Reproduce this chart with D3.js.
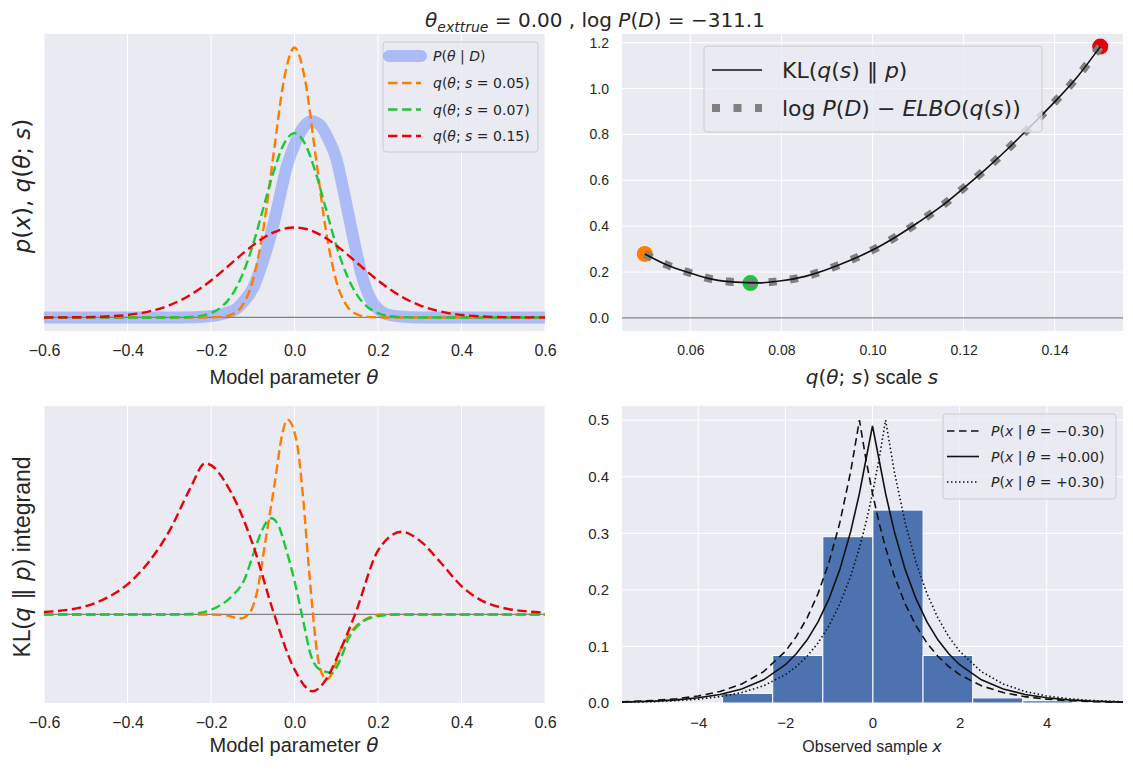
<!DOCTYPE html>
<html>
<head>
<meta charset="utf-8">
<script src="https://cdn.jsdelivr.net/npm/d3@7"></script>
<style>
  body { margin: 0; background: #fff; }
  text { white-space: pre; }
</style>
</head>
<body>
<div id="chart"></div>
<script>
// ---- values ----
const thetaTicks = [-0.6, -0.4, -0.2, 0, 0.2, 0.4, 0.6];
const sTicks = [0.06, 0.08, 0.10, 0.12, 0.14];
const klTicks = [0, 0.2, 0.4, 0.6, 0.8, 1.0, 1.2];
const obsTicks = [-4, -2, 0, 2, 4];
const densTicks = [0, 0.1, 0.2, 0.3, 0.4, 0.5];

const qScales = ["0.05", "0.07", "0.15"];
const lapThetas = ["\u22120.30", "+0.00", "+0.30"];

// posterior P(theta | D)
const postTheta = [-0.6, -0.3, -0.24, -0.2, -0.16, -0.14, -0.12, -0.1, -0.08, -0.06, -0.04, -0.02, 0,
  0.02, 0.04, 0.06, 0.08, 0.1, 0.12, 0.14, 0.16, 0.18, 0.2, 0.22, 0.26, 0.3, 0.6];
const postValues = [0, 0, 0.01, 0.04, 0.14, 0.25, 0.5, 0.85, 1.5, 2.3, 3.3, 4.4, 5.1,
  5.6, 5.8, 5.7, 5.3, 4.7, 3.6, 2.4, 1.3, 0.6, 0.25, 0.1, 0.02, 0, 0];

// q(theta; s) for the three scales
const qTheta = [-0.6, -0.55, -0.5, -0.45, -0.4, -0.35, -0.3, -0.275, -0.25, -0.225, -0.2, -0.175, -0.15,
  -0.125, -0.1, -0.075, -0.05, -0.025, 0, 0.025, 0.05, 0.075, 0.1, 0.125, 0.15, 0.175, 0.2, 0.225,
  0.25, 0.275, 0.3, 0.35, 0.4, 0.45, 0.5, 0.55, 0.6];
const qOrange = [0, 0, 0, 0, 0, 0, 0, 0, 0, 0, 0.003, 0.017, 0.089, 0.35, 1.08, 2.59, 4.84, 7.04, 7.98,
  7.04, 4.84, 2.59, 1.08, 0.35, 0.089, 0.017, 0.003, 0, 0, 0, 0, 0, 0, 0, 0, 0, 0];
const qGreen = [0, 0, 0, 0, 0, 0, 0.001, 0.004, 0.015, 0.047, 0.128, 0.31, 0.66, 1.26, 2.13, 3.22, 4.31,
  5.14, 5.45, 5.14, 4.31, 3.22, 2.13, 1.26, 0.66, 0.31, 0.128, 0.047, 0.015, 0.004, 0.001, 0, 0, 0, 0, 0, 0];
const qRed = [0.001, 0.003, 0.010, 0.030, 0.076, 0.175, 0.360, 0.495, 0.663, 0.864, 1.093, 1.346, 1.613,
  1.880, 2.130, 2.347, 2.517, 2.623, 2.66, 2.623, 2.517, 2.347, 2.130, 1.880, 1.613, 1.346, 1.093, 0.864,
  0.663, 0.495, 0.360, 0.175, 0.076, 0.030, 0.010, 0.003, 0.001];

// KL divergence vs scale s
const sGrid = [0.05, 0.055, 0.06, 0.065, 0.07, 0.075, 0.08, 0.085, 0.09, 0.095, 0.1, 0.105, 0.11,
  0.115, 0.12, 0.125, 0.13, 0.135, 0.14, 0.145, 0.15];
const klValues = [0.279, 0.230, 0.196, 0.168, 0.156, 0.153, 0.162, 0.180, 0.211, 0.250, 0.296, 0.352,
  0.416, 0.485, 0.566, 0.651, 0.743, 0.841, 0.942, 1.052, 1.183];
const gapValues = [0.279, 0.230, 0.196, 0.168, 0.156, 0.153, 0.162, 0.180, 0.211, 0.250, 0.296, 0.352,
  0.416, 0.485, 0.566, 0.651, 0.743, 0.841, 0.942, 1.052, 1.183];
const markS = [0.05, 0.0732, 0.15];
const markKL = [0.279, 0.152, 1.183];

// KL integrand q log(q/p)
const intOrangeTheta = [-0.6, -0.2, -0.16, -0.13, -0.107, -0.09, -0.069, -0.047, -0.03, -0.017, 0.004,
  0.021, 0.034, 0.06, 0.077, 0.09, 0.107, 0.141, 0.176, 0.21, 0.6];
const intOrange = [0, 0, -0.02, -0.07, 0.03, 0.37, 1.27, 2.24, 3.03, 3.30, 2.97, 1.95, 0.82, -0.88,
  -1.10, -1.0, -0.65, -0.25, -0.06, 0, 0];
const intGreenTheta = [-0.6, -0.3, -0.25, -0.2, -0.15, -0.12, -0.1, -0.08, -0.056, -0.04, -0.02, 0,
  0.02, 0.04, 0.06, 0.09, 0.11, 0.13, 0.16, 0.2, 0.25, 0.6];
const intGreen = [0, 0, 0.01, 0.08, 0.31, 0.59, 0.99, 1.39, 1.63, 1.53, 1.10, 0.57, -0.08, -0.71,
  -0.93, -0.99, -0.76, -0.40, -0.14, -0.03, 0, 0];
const intRedTheta = [-0.6, -0.5, -0.45, -0.4, -0.35, -0.3, -0.25, -0.214, -0.15, -0.1, -0.05, 0, 0.043,
  0.08, 0.1, 0.145, 0.2, 0.257, 0.3, 0.35, 0.4, 0.45, 0.5, 0.6];
const intRed = [0.04, 0.14, 0.28, 0.51, 0.88, 1.41, 2.13, 2.56, 2.04, 1.19, 0.03, -0.93, -1.30, -1.05,
  -0.76, 0, 1.08, 1.40, 1.25, 0.88, 0.48, 0.23, 0.11, 0.03];

// observed samples histogram (density) and Laplace likelihoods
const binEdges = [-3.44, -2.29, -1.14, 0.01, 1.16, 2.30, 3.45, 4.60];
const binHeights = [0.017, 0.084, 0.294, 0.341, 0.084, 0.009, 0.004];
const lapX = [-5.75, -5, -4.5, -4, -3.5, -3, -2.5, -2, -1.75, -1.5, -1.25, -1, -0.75, -0.5, -0.3, -0.15, 0,
  0.15, 0.3, 0.5, 0.75, 1, 1.25, 1.5, 1.75, 2, 2.5, 3, 3.5, 4, 4.5, 5, 5.75];
const lapMinus = [0.0022, 0.0046, 0.0075, 0.0124, 0.0204, 0.0336, 0.0554, 0.0913, 0.1173, 0.1506, 0.1934,
  0.2483, 0.3188, 0.4094, 0.5, 0.4304, 0.3704, 0.3188, 0.2744, 0.2247, 0.1749, 0.1363, 0.1061, 0.0826,
  0.0644, 0.0501, 0.0304, 0.0184, 0.0112, 0.0068, 0.0041, 0.0025, 0.0012];
const lapZero = [0.0016, 0.0034, 0.0056, 0.0092, 0.0151, 0.0249, 0.0410, 0.0677, 0.0869, 0.1116, 0.1433,
  0.1839, 0.2362, 0.3033, 0.3704, 0.4304, 0.49, 0.4304, 0.3704, 0.3033, 0.2362, 0.1839, 0.1433, 0.1116,
  0.0869, 0.0677, 0.0410, 0.0249, 0.0151, 0.0092, 0.0056, 0.0034, 0.0016];
const lapPlus = [0.0012, 0.0025, 0.0041, 0.0068, 0.0112, 0.0184, 0.0304, 0.0501, 0.0644, 0.0826, 0.1061,
  0.1363, 0.1749, 0.2247, 0.2744, 0.3188, 0.3704, 0.4304, 0.5, 0.4094, 0.3188, 0.2483, 0.1934, 0.1506,
  0.1173, 0.0913, 0.0554, 0.0336, 0.0204, 0.0124, 0.0075, 0.0046, 0.0022];

// ---- styling ----
const MATH = "DejaVu Sans";
const SANS = "Liberation Sans, Arial, sans-serif";
const INK = "#262626";
const BG = "#eaeaf2";
const ORANGE = "#ff7c00", GREEN = "#1ac938", RED = "#e8000b";
const qColors = [ORANGE, GREEN, RED];

const svg = d3.select("#chart").append("svg")
    .attr("width", 1133)
    .attr("height", 771)
    .style("font-family", SANS);

let clipCount = 0;

function panel(box) {
  const g = svg.append("g").attr("transform", `translate(${box.x},${box.y})`);
  g.append("rect").attr("width", box.w).attr("height", box.h).attr("fill", BG);
  const id = "clip" + (++clipCount);
  g.append("clipPath").attr("id", id)
    .append("rect").attr("width", box.w).attr("height", box.h);
  const grid = g.append("g");
  const plot = g.append("g").attr("clip-path", `url(#${id})`);
  return {g, grid, plot};
}

function vgrid(p, x, ticks, h) {
  p.grid.selectAll(null).data(ticks).join("line")
    .attr("x1", d => x(d)).attr("x2", d => x(d))
    .attr("y1", 0).attr("y2", h)
    .attr("stroke", "#fff").attr("stroke-width", 1);
}

function hgrid(p, y, ticks, w) {
  p.grid.selectAll(null).data(ticks).join("line")
    .attr("y1", d => y(d)).attr("y2", d => y(d))
    .attr("x1", 0).attr("x2", w)
    .attr("stroke", "#fff").attr("stroke-width", 1);
}

function bottomAxis(p, x, ticks, fmt, h, size) {
  p.g.append("g")
    .attr("transform", `translate(0,${h})`)
    .call(d3.axisBottom(x).tickValues(ticks).tickSize(0).tickPadding(14).tickFormat(d3.format(fmt)))
    .call(a => a.select(".domain").remove())
    .attr("font-family", SANS).attr("font-size", size).attr("color", INK);
}

function leftAxis(p, y, ticks, fmt, size) {
  p.g.append("g")
    .call(d3.axisLeft(y).tickValues(ticks).tickSize(0).tickPadding(13).tickFormat(d3.format(fmt)))
    .call(a => a.select(".domain").remove())
    .attr("font-family", SANS).attr("font-size", size).attr("color", INK);
}

// text made of plain and math parts: n = plain, m = math upright, i = math italic, sub = italic subscript
function rich(sel, segs, size) {
  let shift = 0;
  segs.forEach(([t, k]) => {
    const ts = sel.append("tspan").text(t);
    if (k !== "n") ts.attr("font-family", MATH);
    if (k === "i" || k === "sub") ts.attr("font-style", "italic");
    if (k === "sub") {
      shift = size * 0.25;
      ts.attr("font-size", size * 0.7).attr("dy", shift);
    } else if (shift) {
      ts.attr("dy", -shift);
      shift = 0;
    }
  });
  return sel;
}

function label(x, y, segs, size, rotate) {
  const t = svg.append("text")
    .attr("text-anchor", "middle")
    .attr("font-size", size)
    .attr("fill", INK)
    .attr("transform", `translate(${x},${y})` + (rotate ? " rotate(-90)" : ""));
  return rich(t, segs, size);
}

function legendBox(x, y, w, h) {
  svg.append("rect")
    .attr("x", x).attr("y", y).attr("width", w).attr("height", h).attr("rx", 3)
    .attr("fill", BG).attr("fill-opacity", 0.8)
    .attr("stroke", "#cccccc").attr("stroke-width", 1);
}

function legendText(x, y, segs, size) {
  const t = svg.append("text")
    .attr("x", x).attr("y", y)
    .attr("dominant-baseline", "central")
    .attr("font-size", size)
    .attr("fill", INK);
  rich(t, segs, size);
}

function pathOf(xs, ys, x, y, curve) {
  return d3.line().x(d => x(d[0])).y(d => y(d[1])).curve(curve || d3.curveLinear)(d3.zip(xs, ys));
}

const W = 501, H = 297;
const DASH = "9.5,4.5", LW = 2.4;

// ---- top left: posterior and q densities ----
{
  const box = {x: 44, y: 34, w: W, h: H};
  const p = panel(box);
  const x = d3.scaleLinear([-0.6, 0.6], [0, W]);
  const y = d3.scaleLinear([-0.4, 8.38], [H, 0]);
  vgrid(p, x, thetaTicks, H);

  p.plot.append("path")
    .attr("d", pathOf(postTheta, postValues, x, y, d3.curveMonotoneX))
    .attr("fill", "none").attr("stroke", "#023eff").attr("stroke-opacity", 0.27)
    .attr("stroke-width", 12).attr("stroke-linecap", "round").attr("stroke-linejoin", "round");

  p.plot.append("line")
    .attr("x1", 0).attr("x2", W).attr("y1", y(0)).attr("y2", y(0))
    .attr("stroke", "#808080").attr("stroke-width", 1.2);

  [qOrange, qGreen, qRed].forEach((vals, i) => {
    p.plot.append("path")
      .attr("d", pathOf(qTheta, vals, x, y, d3.curveMonotoneX))
      .attr("fill", "none").attr("stroke", qColors[i]).attr("stroke-width", LW)
      .attr("stroke-dasharray", DASH);
  });

  bottomAxis(p, x, thetaTicks, ".1f", H, 16);
}

// ---- top right: KL vs s ----
{
  const box = {x: 622, y: 34, w: W, h: H};
  const p = panel(box);
  const x = d3.scaleLinear([0.045, 0.155], [0, W]);
  const y = d3.scaleLinear([-0.057, 1.238], [H, 0]);
  vgrid(p, x, sTicks, H);
  hgrid(p, y, klTicks, W);

  p.plot.append("line")
    .attr("x1", 0).attr("x2", W).attr("y1", y(0)).attr("y2", y(0))
    .attr("stroke", "#808080").attr("stroke-width", 1.2);

  p.plot.selectAll(null).data(d3.zip(markS, markKL)).join("circle")
    .attr("cx", d => x(d[0])).attr("cy", d => y(d[1])).attr("r", 8)
    .attr("fill", (d, i) => qColors[i]);

  p.plot.append("path")
    .attr("d", pathOf(sGrid, gapValues, x, y, d3.curveMonotoneX))
    .attr("fill", "none").attr("stroke", "#808080").attr("stroke-width", 8)
    .attr("stroke-dasharray", "8,13.5");

  p.plot.append("path")
    .attr("d", pathOf(sGrid, klValues, x, y, d3.curveMonotoneX))
    .attr("fill", "none").attr("stroke", "#111").attr("stroke-width", 1.6);

  bottomAxis(p, x, sTicks, ".2f", H, 14);
  leftAxis(p, y, klTicks, ".1f", 14);
}

// ---- bottom left: KL integrand ----
{
  const box = {x: 44, y: 406, w: W, h: H};
  const p = panel(box);
  const x = d3.scaleLinear([-0.6, 0.6], [0, W]);
  const y = d3.scaleLinear([-1.5, 3.53], [H, 0]);
  vgrid(p, x, thetaTicks, H);

  p.plot.append("line")
    .attr("x1", 0).attr("x2", W).attr("y1", y(0)).attr("y2", y(0))
    .attr("stroke", "#808080").attr("stroke-width", 1.2);

  [[intOrangeTheta, intOrange], [intGreenTheta, intGreen], [intRedTheta, intRed]].forEach(([t, v], i) => {
    p.plot.append("path")
      .attr("d", pathOf(t, v, x, y, d3.curveMonotoneX))
      .attr("fill", "none").attr("stroke", qColors[i]).attr("stroke-width", LW)
      .attr("stroke-dasharray", DASH);
  });

  bottomAxis(p, x, thetaTicks, ".1f", H, 16);
}

// ---- bottom right: histogram and likelihoods ----
{
  const box = {x: 622, y: 406, w: W, h: H};
  const p = panel(box);
  const x = d3.scaleLinear([-5.75, 5.75], [0, W]);
  const y = d3.scaleLinear([0, 0.525], [H, 0]);
  vgrid(p, x, obsTicks, H);
  hgrid(p, y, densTicks, W);

  p.plot.selectAll(null).data(binHeights).join("rect")
    .attr("x", (d, i) => x(binEdges[i]))
    .attr("width", (d, i) => x(binEdges[i + 1]) - x(binEdges[i]))
    .attr("y", d => y(d))
    .attr("height", d => y(0) - y(d))
    .attr("fill", "#4c72b0").attr("stroke", "#fff").attr("stroke-width", 1);

  const styles = [{dash: "7.5,4.5"}, {dash: null}, {dash: "1.5,2.5"}];
  [lapMinus, lapZero, lapPlus].forEach((vals, i) => {
    p.plot.append("path")
      .attr("d", pathOf(lapX, vals, x, y))
      .attr("fill", "none").attr("stroke", "#111").attr("stroke-width", 1.6)
      .attr("stroke-dasharray", styles[i].dash);
  });

  bottomAxis(p, x, obsTicks, "d", H, 15);
  leftAxis(p, y, densTicks, ".1f", 15);

  // legend
  legendBox(943, 414, 173, 85);
  lapThetas.forEach((th, i) => {
    const yy = 431 + i * 25.5;
    svg.append("line").attr("x1", 947).attr("x2", 979).attr("y1", yy).attr("y2", yy)
      .attr("stroke", "#111").attr("stroke-width", 1.6).attr("stroke-dasharray", styles[i].dash);
    legendText(991, yy, [["P", "i"], ["(", "m"], ["x", "i"], [" | ", "m"], ["\u03b8", "i"], [" = " + th + ")", "m"]], 14);
  });
}

// ---- legends for top panels ----
legendBox(383, 42, 155, 110);
svg.append("line").attr("x1", 389).attr("x2", 421).attr("y1", 56).attr("y2", 56)
  .attr("stroke", "#023eff").attr("stroke-opacity", 0.27).attr("stroke-width", 12).attr("stroke-linecap", "round");
legendText(433, 56, [["P", "i"], ["(", "m"], ["\u03b8", "i"], [" | ", "m"], ["D", "i"], [")", "m"]], 14);
qScales.forEach((s, i) => {
  const yy = 83 + i * 26.5;
  svg.append("line").attr("x1", 388).attr("x2", 421).attr("y1", yy).attr("y2", yy)
    .attr("stroke", qColors[i]).attr("stroke-width", LW).attr("stroke-dasharray", DASH);
  legendText(433, yy, [["q", "i"], ["(", "m"], ["\u03b8", "i"], ["; ", "m"], ["s", "i"], [" = " + s + ")", "m"]], 14);
});

legendBox(704, 46, 338, 86);
svg.append("line").attr("x1", 712).attr("x2", 762).attr("y1", 70).attr("y2", 70)
  .attr("stroke", "#111").attr("stroke-width", 1.6);
legendText(782, 70, [["KL(", "m"], ["q", "i"], ["(", "m"], ["s", "i"], [") \u2016 ", "m"], ["p", "i"], [")", "m"]], 22);
svg.append("line").attr("x1", 712).attr("x2", 762).attr("y1", 108).attr("y2", 108)
  .attr("stroke", "#808080").attr("stroke-width", 8).attr("stroke-dasharray", "8,13.5");
legendText(782, 108, [["log ", "m"], ["P", "i"], ["(", "m"], ["D", "i"], [") \u2212 ", "m"], ["ELBO", "i"],
  ["(", "m"], ["q", "i"], ["(", "m"], ["s", "i"], ["))", "m"]], 22);

// ---- titles and axis labels ----
label(595, 27, [["\u03b8", "i"], ["exttrue", "sub"], [" = 0.00 , log ", "m"], ["P", "i"], ["(", "m"], ["D", "i"],
  [") = \u2212311.1", "m"]], 20);
label(294, 384, [["Model parameter ", "n"], ["\u03b8", "i"]], 20);
label(294, 752, [["Model parameter ", "n"], ["\u03b8", "i"]], 20);
label(872, 384, [["q", "i"], ["(", "m"], ["\u03b8", "i"], ["; ", "m"], ["s", "i"], [")", "m"], [" scale ", "n"], ["s", "i"]], 20);
label(872, 752, [["Observed sample ", "n"], ["x", "i"]], 16);
label(30, 186, [["p", "i"], ["(", "m"], ["x", "i"], ["), ", "m"], ["q", "i"], ["(", "m"], ["\u03b8", "i"], ["; ", "m"],
  ["s", "i"], [")", "m"]], 23, true);
label(30, 557, [["KL(", "n"], ["q", "i"], [" \u2016 ", "m"], ["p", "i"], [") integrand", "n"]], 23, true);
</script>
</body>
</html>
